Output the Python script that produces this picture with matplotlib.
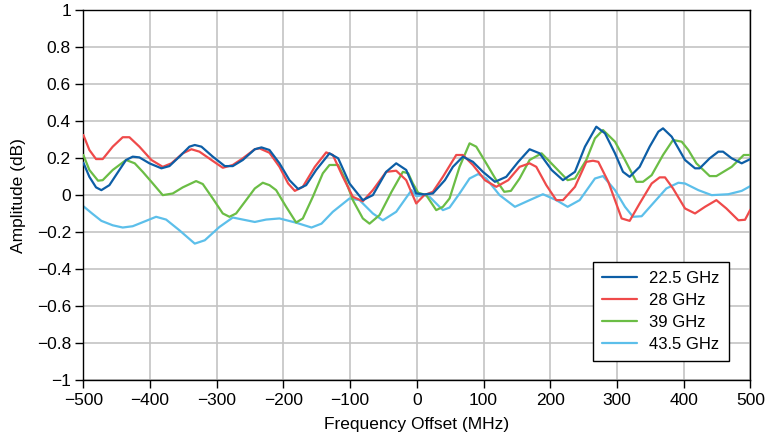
import matplotlib
matplotlib.use("Agg")
import matplotlib.pyplot as plt

plt.rcParams['font.family'] = ['Liberation Sans', 'DejaVu Sans']

# 22.5 GHz
x_225 = [-500, -491, -481, -473, -461, -446, -436, -426, -416, -401, -383, -371, -356, -341,
         -333, -323, -306, -288, -276, -261, -243, -233, -221, -206, -191, -178, -166, -151,
         -131, -118, -101, -81, -66, -46, -31, -16, -1, 11, 24, 42, 54, 69, 84, 99, 117, 134,
         152, 169, 184, 202, 219, 237, 252, 269, 282, 297, 309, 319, 334, 349, 362, 369, 382,
         402, 417, 424, 439, 452, 459, 472, 487, 500]
y_225 = [0.175, 0.099, 0.042, 0.027, 0.054, 0.136, 0.19, 0.208, 0.204, 0.172, 0.145, 0.157,
         0.208, 0.262, 0.271, 0.262, 0.208, 0.157, 0.157, 0.19, 0.248, 0.258, 0.244, 0.172,
         0.081, 0.033, 0.054, 0.136, 0.226, 0.199, 0.063, -0.027, 0.0, 0.126, 0.172, 0.136,
         0.009, 0.004, 0.009, 0.081, 0.153, 0.208, 0.18, 0.126, 0.072, 0.099, 0.18, 0.248,
         0.226, 0.136, 0.081, 0.126, 0.262, 0.37, 0.334, 0.226, 0.126, 0.099, 0.153, 0.262,
         0.343, 0.361, 0.316, 0.19, 0.145, 0.145, 0.199, 0.235, 0.235, 0.199, 0.172, 0.195]

# 28 GHz
x_28 = [-500, -491, -481, -471, -456, -441, -431, -416, -398, -381, -368, -351, -338, -326,
        -308, -291, -276, -261, -243, -236, -221, -206, -193, -183, -171, -153, -136, -126,
        -111, -96, -81, -66, -46, -31, -16, -1, 11, 24, 39, 59, 69, 84, 102, 119, 137, 154,
        169, 179, 194, 209, 219, 237, 254, 264, 272, 287, 307, 319, 334, 352, 364, 372, 384,
        402, 417, 432, 449, 464, 482, 492, 500]
y_28 = [0.325, 0.244, 0.195, 0.195, 0.262, 0.313, 0.313, 0.262, 0.19, 0.153, 0.172, 0.226,
        0.248, 0.235, 0.19, 0.148, 0.163, 0.199, 0.248, 0.253, 0.229, 0.153, 0.063, 0.023,
        0.045, 0.153, 0.231, 0.217, 0.099, -0.009, -0.033, 0.027, 0.126, 0.132, 0.081, -0.045,
        0.0, 0.018, 0.099, 0.217, 0.217, 0.163, 0.081, 0.045, 0.081, 0.153, 0.172, 0.153,
        0.054, -0.027, -0.027, 0.045, 0.18, 0.186, 0.18, 0.072, -0.126, -0.139, -0.045, 0.063,
        0.096, 0.096, 0.036, -0.072, -0.099, -0.063, -0.027, -0.072, -0.136, -0.133, -0.078]

# 39 GHz
x_39 = [-500, -491, -478, -471, -456, -436, -423, -411, -398, -381, -366, -351, -331, -321,
        -306, -291, -281, -271, -256, -243, -231, -221, -211, -196, -181, -171, -156, -141,
        -131, -118, -108, -96, -81, -71, -56, -38, -21, -13, -6, 2, 14, 29, 39, 49, 64, 79,
        89, 104, 119, 131, 141, 154, 169, 187, 204, 226, 237, 254, 267, 279, 297, 312, 329,
        339, 352, 369, 384, 397, 407, 419, 439, 449, 472, 490, 500]
y_39 = [0.217, 0.136, 0.078, 0.081, 0.136, 0.19, 0.172, 0.126, 0.072, 0.0, 0.009, 0.042,
        0.076, 0.06, -0.018, -0.099, -0.117, -0.099, -0.027, 0.036, 0.067, 0.054, 0.027,
        -0.063, -0.148, -0.126, -0.009, 0.118, 0.163, 0.163, 0.09, -0.027, -0.126, -0.154,
        -0.108, 0.018, 0.126, 0.118, 0.063, 0.013, 0.0, -0.081, -0.063, -0.018, 0.153, 0.28,
        0.262, 0.172, 0.081, 0.018, 0.023, 0.09, 0.19, 0.226, 0.163, 0.081, 0.09, 0.19, 0.307,
        0.352, 0.289, 0.19, 0.072, 0.072, 0.108, 0.217, 0.298, 0.289, 0.244, 0.172, 0.103,
        0.103, 0.153, 0.217, 0.217]

# 43.5 GHz
x_435 = [-500, -487, -473, -456, -441, -426, -406, -391, -376, -356, -333, -318, -296, -276,
         -261, -243, -226, -206, -181, -158, -143, -126, -101, -86, -66, -51, -31, -8, -1, 11,
         19, 39, 49, 64, 79, 92, 104, 124, 147, 169, 189, 209, 226, 244, 267, 279, 297, 312,
         324, 337, 354, 374, 392, 402, 422, 442, 467, 487, 500]
y_435 = [-0.06, -0.099, -0.139, -0.163, -0.175, -0.168, -0.139, -0.117, -0.132, -0.19,
         -0.262, -0.244, -0.172, -0.121, -0.132, -0.145, -0.132, -0.126, -0.149, -0.175,
         -0.154, -0.09, -0.018, -0.027, -0.099, -0.136, -0.09, 0.027, -0.005, 0.0, -0.009,
         -0.081, -0.067, 0.009, 0.09, 0.114, 0.09, 0.0, -0.063, -0.027, 0.005, -0.027, -0.063,
         -0.027, 0.09, 0.103, 0.027, -0.063, -0.117, -0.114, -0.045, 0.036, 0.067, 0.063,
         0.027, 0.0, 0.005, 0.023, 0.049]

y_ticks = [1, 0.8, 0.6, 0.4, 0.2, 0, -0.2, -0.4, -0.6, -0.8, -1]
y_labels = ['1', '0.8', '0.6', '0.4', '0.2', '0', '\u22120.2', '\u22120.4', '\u22120.6',
            '\u22120.8', '\u22121']
x_ticks = [-500, -400, -300, -200, -100, 0, 100, 200, 300, 400, 500]

fig = plt.figure(figsize=(7.72, 4.40), dpi=100)
ax = fig.add_axes([0.108, 0.136, 0.864, 0.841])

kw = dict(lw=1.6, solid_joinstyle='round', solid_capstyle='round')
ax.plot(x_225, y_225, color='#0d5ea6', label='22.5 GHz', zorder=5, **kw)
ax.plot(x_28, y_28, color='#ef4a4a', label='28 GHz', zorder=4, **kw)
ax.plot(x_39, y_39, color='#6bbd45', label='39 GHz', zorder=3, **kw)
ax.plot(x_435, y_435, color='#5cbfea', label='43.5 GHz', zorder=2, **kw)

ax.set_xlim(-500, 500)
ax.set_ylim(-1, 1)
ax.set_xticks(x_ticks)
ax.set_yticks(y_ticks)
ax.set_yticklabels(y_labels)
ax.grid(True, color='#c4c4c4', lw=1.2)
ax.set_axisbelow(True)
ax.tick_params(direction='out', length=6, width=1, labelsize=12.5, colors='black', pad=3)
for s in ax.spines.values():
    s.set_color('black')
    s.set_linewidth(1)

ax.set_xlabel('Frequency Offset (MHz)', fontsize=12.5, labelpad=7)
ax.set_ylabel('Amplitude (dB)', fontsize=12.5, labelpad=8)

leg = ax.legend(loc='lower right', bbox_to_anchor=(0.9675, 0.051), borderaxespad=0,
                fontsize=12, frameon=True, fancybox=False, edgecolor='black', framealpha=1,
                handlelength=2.1, handletextpad=0.7, borderpad=0.55, labelspacing=0.42)
leg.get_frame().set_linewidth(1)

fig.savefig('out.png', dpi=100)
